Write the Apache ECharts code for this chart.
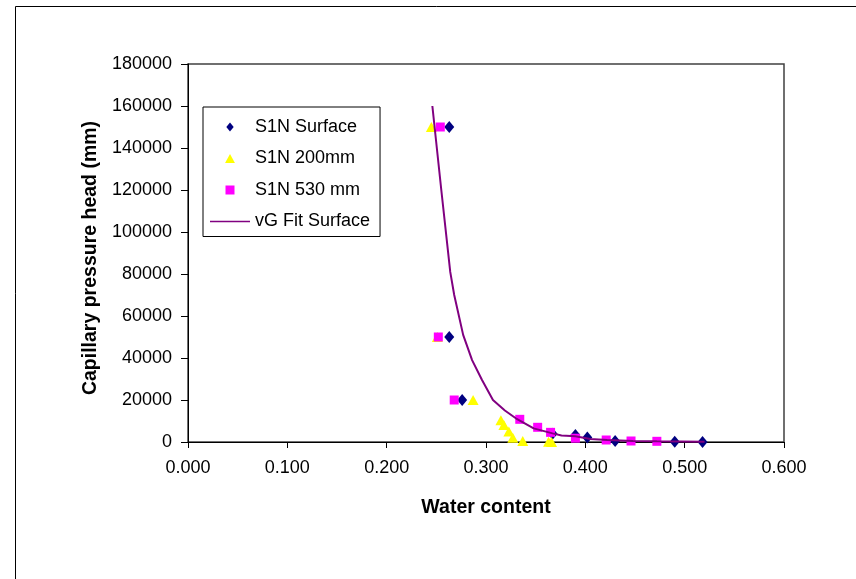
<!DOCTYPE html>
<html>
<head>
<meta charset="utf-8">
<script src="https://cdn.jsdelivr.net/npm/echarts@6/dist/echarts.min.js"></script>
<style>
  html, body { margin: 0; padding: 0; background: #fff; }
  #chart { width: 856px; height: 579px; }
</style>
</head>
<body>
<div id="chart"></div>
<script>
// water content vs capillary pressure head (mm)
const surfacePts = [
  [0.263, 150000], [0.263, 50000], [0.276, 20000], [0.367, 3900],
  [0.390, 3300], [0.402, 2200], [0.430, 500], [0.490, 100], [0.518, 50]
];
const mm200Pts = [
  [0.245, 150000], [0.251, 50000], [0.287, 20000], [0.315, 10300],
  [0.318, 8100], [0.323, 5000], [0.327, 2000], [0.337, 500],
  [0.363, 100], [0.366, 50]
];
const mm530Pts = [
  [0.254, 150000], [0.252, 50000], [0.268, 20000], [0.334, 10800],
  [0.352, 7000], [0.365, 4600], [0.390, 1800], [0.421, 950],
  [0.446, 480], [0.472, 330]
];
const vgFitPts = [
  [0.246, 160000], [0.255, 120000], [0.264, 81000], [0.268, 70000],
  [0.277, 51000], [0.286, 39000], [0.296, 29500], [0.307, 20000],
  [0.319, 15000], [0.330, 11300], [0.348, 6500], [0.367, 4100],
  [0.376, 3100], [0.390, 2700], [0.405, 1400], [0.422, 900],
  [0.448, 450], [0.472, 300], [0.520, 100]
];

const FONT = 'Liberation Sans, Arial, sans-serif';

// legend icons as paths so they keep their aspect inside the 40px slot
const ICON_DIAMOND = 'path://M0,-1.1L0.9,0L0,1.1L-0.9,0Z';
const ICON_TRIANGLE = 'path://M0,-1L1.1,1L-1.1,1Z';
const ICON_SQUARE = 'path://M-1,-1L1,-1L1,1L-1,1Z';
const ICON_LINE = 'path://M0,0L40,0L40,1.5L0,1.5Z';

var chart = echarts.init(document.getElementById('chart'), null, { renderer: 'canvas' });

var option = {
  animation: false,
  backgroundColor: '#fff',
  grid: {
    left: 188, top: 64, right: 72, bottom: 137,
    show: true, borderColor: '#404040', borderWidth: 1.5
  },
  legend: {
    data: [
      { name: 'S1N Surface', icon: ICON_DIAMOND },
      { name: 'S1N 200mm', icon: ICON_TRIANGLE },
      { name: 'S1N 530 mm', icon: ICON_SQUARE },
      {
        name: 'vG Fit Surface', icon: ICON_LINE,
        itemStyle: { color: '#800080' },
        lineStyle: { color: '#800080', width: 1.6 }
      }
    ],
    orient: 'vertical',
    left: 203, top: 107,
    padding: [10, 10, 5, 7],
    itemWidth: 40, itemHeight: 9,
    itemGap: 11.5,
    symbolKeepAspect: true,
    backgroundColor: '#fff',
    borderColor: '#000', borderWidth: 1,
    textStyle: { fontFamily: FONT, fontSize: 18, color: '#000', lineHeight: 20 }
  },
  xAxis: {
    type: 'value',
    min: 0, max: 0.6, interval: 0.1,
    name: 'Water content',
    nameLocation: 'middle',
    nameGap: 56,
    nameTextStyle: { fontFamily: FONT, fontSize: 19.5, fontWeight: 'bold', color: '#000' },
    axisLine: { lineStyle: { color: '#000', width: 1 } },
    axisTick: { show: true, length: 6, lineStyle: { color: '#000' } },
    axisLabel: {
      fontFamily: FONT, fontSize: 18, color: '#000', margin: 17,
      formatter: v => v.toFixed(3)
    },
    splitLine: { show: false }
  },
  yAxis: {
    type: 'value',
    min: 0, max: 180000, interval: 20000,
    name: 'Capillary pressure head (mm)',
    nameLocation: 'middle',
    nameGap: 74,
    nameTextStyle: {
      fontFamily: FONT, fontSize: 19.5, fontWeight: 'bold', color: '#000',
      padding: [0, 0, 0, -10]
    },
    axisLine: { show: true, lineStyle: { color: '#000', width: 1 } },
    axisTick: { show: true, length: 7, lineStyle: { color: '#000' } },
    axisLabel: {
      fontFamily: FONT, fontSize: 18, color: '#000', margin: 16,
      formatter: v => String(v)
    },
    splitLine: { show: false }
  },
  series: [
    {
      name: 'vG Fit Surface',
      type: 'line',
      data: vgFitPts,
      symbol: 'none',
      smooth: false,
      lineStyle: { color: '#800080', width: 2 },
      itemStyle: { color: '#800080' }
    },
    {
      name: 'S1N Surface',
      type: 'scatter',
      data: surfacePts,
      symbol: 'diamond',
      symbolSize: [10, 12],
      itemStyle: { color: '#000080', opacity: 1 }
    },
    {
      name: 'S1N 200mm',
      type: 'scatter',
      data: mm200Pts,
      symbol: 'triangle',
      symbolSize: [11, 10],
      itemStyle: { color: '#FFFF00', opacity: 1 }
    },
    {
      name: 'S1N 530 mm',
      type: 'scatter',
      data: mm530Pts,
      symbol: 'rect',
      symbolSize: 9,
      itemStyle: { color: '#FF00FF', opacity: 1 }
    }
  ],
  graphic: [
    {
      type: 'rect',
      silent: true,
      shape: { x: 15.5, y: 6.5, width: 900, height: 700 },
      style: { fill: 'none', stroke: '#000', lineWidth: 1 }
    }
  ]
};

chart.setOption(option);
</script>
</body>
</html>
